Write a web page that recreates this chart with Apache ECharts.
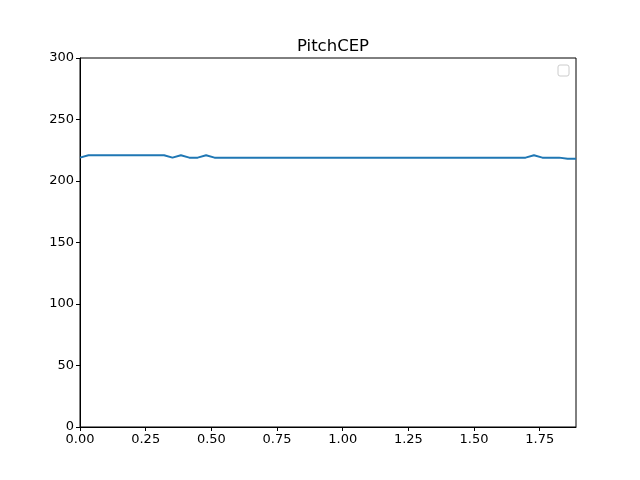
<!DOCTYPE html>
<html><head><meta charset="utf-8">
<script src="https://cdn.jsdelivr.net/npm/echarts@6/dist/echarts.min.js"></script>
<style>html,body{margin:0;padding:0;background:#fff}#c{width:640px;height:480px}</style>
</head><body><div id="c"></div>
<script>
const xs=[0,0.032,0.064,0.096,0.128,0.16,0.192,0.224,0.256,0.288,0.32,0.352,0.384,0.416,0.448,0.48,0.512,0.544,0.576,0.608,0.64,0.672,0.704,0.736,0.768,0.8,0.832,0.864,0.896,0.928,0.96,0.992,1.024,1.056,1.088,1.12,1.152,1.184,1.216,1.248,1.28,1.312,1.344,1.376,1.408,1.44,1.472,1.504,1.536,1.568,1.6,1.632,1.664,1.696,1.728,1.76,1.792,1.824,1.856,1.888];
const ys=[219,221,221,221,221,221,221,221,221,221,221,219,221,219,219,221,219,219,219,219,219,219,219,219,219,219,219,219,219,219,219,219,219,219,219,219,219,219,219,219,219,219,219,219,219,219,219,219,219,219,219,219,219,219,221,219,219,219,218,218];
const title="PitchCEP";
const chart=echarts.init(document.getElementById('c'));
const ax={color:'#000',fontSize:13,fontFamily:'DejaVu Sans'};
chart.setOption({
 animation:false,
 title:{text:title,left:328,textAlign:'center',top:33,textStyle:{fontFamily:'DejaVu Sans',fontSize:16.5,fontWeight:'normal',color:'#000'}},
 grid:{left:80,right:64,top:58,bottom:53},
 xAxis:{type:'value',min:0,max:1.888,interval:0.25,
  axisLine:{lineStyle:{color:'#000'}},axisTick:{lineStyle:{color:'#000'},length:4},
  axisLabel:Object.assign({formatter:v=>v.toFixed(2),showMaxLabel:false,margin:6},ax),splitLine:{show:false}},
 yAxis:{type:'value',min:0,max:300,interval:50,
  axisLine:{show:true,lineStyle:{color:'#000'}},axisTick:{show:true,lineStyle:{color:'#000'},length:4},
  axisLabel:Object.assign({margin:6},ax),splitLine:{show:false}},
 graphic:[
  {type:'rect',shape:{x:80,y:58,width:496,height:369},style:{fill:'none',stroke:'#000',lineWidth:1},silent:true},
  {type:'rect',shape:{x:558,y:65,width:11,height:11,r:2},style:{fill:'#fff',stroke:'#ccc',lineWidth:1}}
 ],
 series:[{type:'line',data:xs.map((x,i)=>[x,ys[i]]),showSymbol:false,lineStyle:{color:'#1f77b4',width:2}}]
});
</script></body></html>
